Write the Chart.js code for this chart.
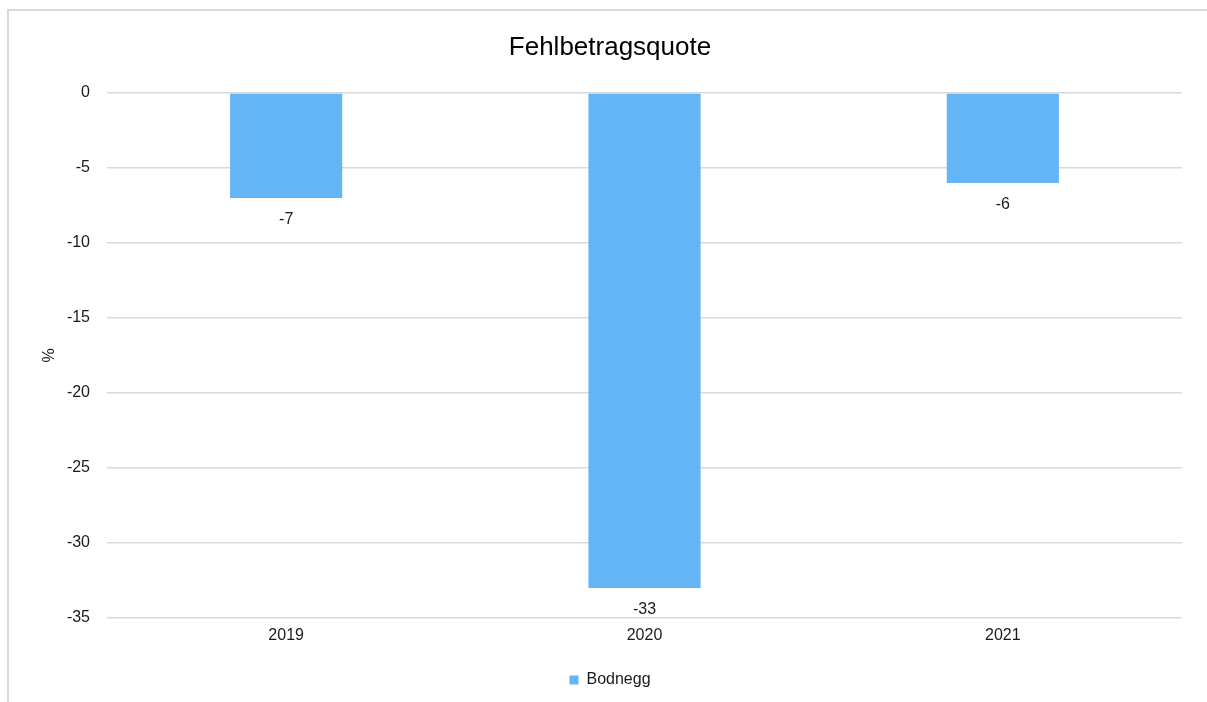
<!DOCTYPE html>
<html>
<head>
<meta charset="utf-8">
<script src="https://cdn.jsdelivr.net/npm/chart.js@4/dist/chart.umd.min.js"></script>
<style>
  html, body { margin: 0; padding: 0; background: #fff; overflow: hidden; }
  #wrap { position: relative; width: 1207px; height: 702px; overflow: hidden; }
  #frame { position: absolute; left: 7px; top: 9px; width: 1400px; height: 900px;
           border-left: 2px solid #dadada; border-top: 2px solid #dadada; pointer-events: none; }
  canvas { position: absolute; left: 0; top: 0; }
</style>
</head>
<body>
<div id="wrap">
  <canvas id="c" width="1220" height="702"></canvas>
  <div id="frame"></div>
</div>
<script>
const categories = ['2019', '2020', '2021'];
const seriesName = 'Bodnegg';
const values = [-7, -33, -6];
const yTicks = [0, -5, -10, -15, -20, -25, -30, -35];
const chartTitle = 'Fehlbetragsquote';
const yAxisTitle = '%';

const FONT = "'Liberation Sans', Arial, sans-serif";
const BAR_COLOR = '#64b5f6';
const TEXT_COLOR = '#1a1a1a';

const barLabels = {
  id: 'barLabels',
  afterDatasetsDraw(chart) {
    const ctx = chart.ctx;
    ctx.save();
    ctx.font = '16px ' + FONT;
    ctx.fillStyle = TEXT_COLOR;
    ctx.textAlign = 'center';
    ctx.textBaseline = 'middle';
    chart.data.datasets.forEach((ds, di) => {
      chart.getDatasetMeta(di).data.forEach((el, i) => {
        ctx.fillText(String(ds.data[i]), el.x, el.y + 22);
      });
    });
    ctx.restore();
  }
};

new Chart(document.getElementById('c'), {
  type: 'bar',
  data: {
    labels: categories,
    datasets: [{
      label: seriesName,
      data: values,
      backgroundColor: BAR_COLOR,
      borderWidth: 0,
      barPercentage: 0.313,
      categoryPercentage: 1.0,
      yAxisID: 'y'
    }]
  },
  options: {
    responsive: false,
    animation: false,
    layout: { padding: { left: 0, right: 0, top: 0, bottom: 4 } },
    plugins: {
      title: {
        display: true,
        text: chartTitle,
        color: '#000',
        font: { family: FONT, size: 26, weight: 'normal' },
        padding: { top: 32, bottom: 29.8 }
      },
      legend: {
        display: true,
        position: 'bottom',
        labels: {
          color: TEXT_COLOR,
          font: { family: FONT, size: 16 },
          boxWidth: 9,
          boxHeight: 9,
          padding: 10
        }
      },
      tooltip: { enabled: false }
    },
    scales: {
      x: {
        grid: { display: false, drawTicks: false },
        border: { display: false },
        ticks: { color: TEXT_COLOR, font: { family: FONT, size: 16 }, padding: 8 },
        afterFit(scale) { scale.height = 44; }
      },
      y: {
        min: -35,
        max: 0,
        grid: { color: '#d9d9d9', lineWidth: 1.5, drawTicks: false },
        border: { display: false },
        ticks: {
          color: TEXT_COLOR,
          font: { family: FONT, size: 16 },
          padding: 17,
          stepSize: 5,
          callback: (v) => yTicks.includes(v) ? String(v) : ''
        },
        title: {
          display: true,
          text: yAxisTitle,
          color: TEXT_COLOR,
          font: { family: FONT, size: 16 },
          padding: { top: 40, bottom: 0 }
        },
        afterFit(scale) { scale.width = 107; }
      },
      spacer: {
        type: 'linear',
        position: 'right',
        display: true,
        grid: { display: false, drawTicks: false },
        border: { display: false },
        ticks: { display: false },
        afterFit(scale) { scale.width = 38; }
      }
    }
  },
  plugins: [barLabels]
});
</script>
</body>
</html>
